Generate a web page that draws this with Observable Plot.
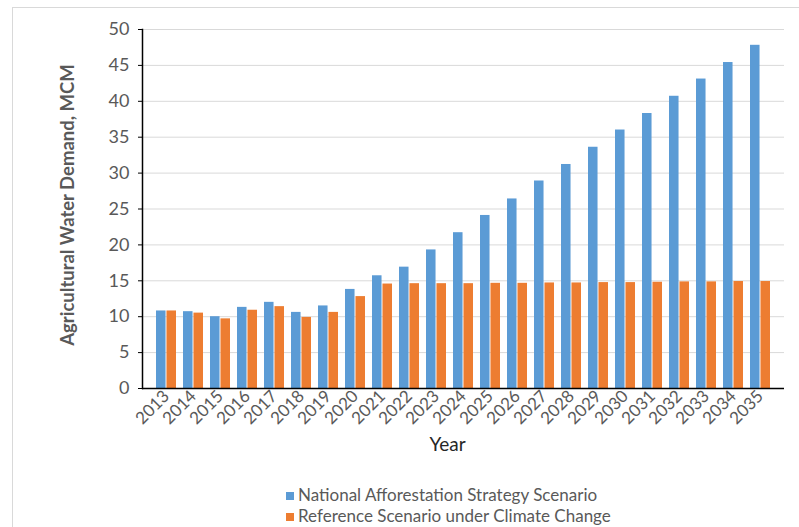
<!DOCTYPE html>
<html>
<head>
<meta charset="utf-8">
<script src="https://cdn.jsdelivr.net/npm/d3@7"></script>
<script src="https://cdn.jsdelivr.net/npm/@observablehq/plot@0.6"></script>
<style>
  body { margin: 0; background: #fff; font-family: Lato, "Noto Sans", sans-serif; }
  #wrap { position: relative; width: 799px; height: 527px; overflow: hidden; }
  #border { position: absolute; left: 12px; top: 7px; width: 800px; height: 600px; border-top: 1px solid #d9d9d9; border-left: 1px solid #d9d9d9; }
  #chart { position: absolute; left: 0; top: 0; }
  #legend { position: absolute; left: 286px; top: 484px; font-size: 17px; color: #595959; line-height: 21px; }
  #legend div { height: 21px; }
  #legend .sw { display: inline-block; width: 8px; height: 8px; margin-right: 4px; vertical-align: 1px; }
</style>
</head>
<body>
<div id="wrap">
  <div id="border"></div>
  <div id="chart"></div>
  <div id="legend"></div>
</div>
<script>
const years = ["2013","2014","2015","2016","2017","2018","2019","2020","2021","2022","2023","2024","2025","2026","2027","2028","2029","2030","2031","2032","2033","2034","2035"];
const seriesNames = ["National Afforestation Strategy Scenario", "Reference Scenario under Climate Change"];
const nationalValues = [10.8, 10.7, 10.0, 11.3, 12.0, 10.6, 11.5, 13.8, 15.7, 16.9, 19.3, 21.7, 24.1, 26.4, 28.9, 31.2, 33.6, 36.0, 38.3, 40.7, 43.1, 45.4, 47.8];
const referenceValues = [10.8, 10.5, 9.7, 10.9, 11.4, 9.9, 10.6, 12.8, 14.55, 14.6, 14.6, 14.6, 14.65, 14.65, 14.7, 14.7, 14.75, 14.75, 14.8, 14.85, 14.85, 14.9, 14.9];
const yTicks = [0, 5, 10, 15, 20, 25, 30, 35, 40, 45, 50];
const colors = ["#5B9BD5", "#ED7D31"];

const national = years.map((y, i) => ({year: y, value: nationalValues[i]}));
const reference = years.map((y, i) => ({year: y, value: referenceValues[i]}));

const W = 799, H = 470, ML = 142, MR = 15, MT = 29, MB = 82;
const step = (W - ML - MR) / years.length;
const bw = step * 0.75;

const chart = Plot.plot({
  width: W, height: H,
  marginLeft: ML, marginRight: MR, marginTop: MT, marginBottom: MB,
  style: {fontFamily: "Lato, 'Noto Sans', sans-serif", color: "#595959", background: "transparent"},
  x: {domain: years, paddingInner: 0.25, paddingOuter: 0.125, label: null},
  y: {domain: [0, 50], label: null},
  marks: [
    Plot.gridY(yTicks, {stroke: "#d9d9d9", strokeOpacity: 1, strokeWidth: 1}),
    Plot.barY(national, {x: "year", y: "value", fill: colors[0], insetRight: bw / 2}),
    Plot.barY(reference, {x: "year", y: "value", fill: colors[1], insetLeft: bw / 2}),
    Plot.ruleY([0], {stroke: "#000", strokeWidth: 1.5}),
    Plot.frame({anchor: "left", stroke: "#000", strokeWidth: 1.5}),
    Plot.axisY(yTicks, {tickSize: 4, tickPadding: 9, fontSize: 18, fill: "#595959", stroke: "#000", label: null}),
    Plot.axisX({tickSize: 0, tickPadding: 5, tickRotate: -45, fontSize: 17, fill: "#595959", label: null}),
    Plot.text(["Year"], {frameAnchor: "bottom", dx: -16, dy: 62, fontSize: 19, fill: "#262626"}),
    Plot.text(["Agricultural Water Demand, MCM"], {frameAnchor: "left", textAnchor: "middle", rotate: -90, dx: -74, dy: -4, fontSize: 18.5, fontWeight: "bold", fill: "#595959"})
  ]
});
document.getElementById("chart").appendChild(chart);

const legend = document.getElementById("legend");
seriesNames.forEach((name, i) => {
  const row = document.createElement("div");
  const sw = document.createElement("span");
  sw.className = "sw";
  sw.style.background = colors[i];
  row.appendChild(sw);
  row.appendChild(document.createTextNode(name));
  legend.appendChild(row);
});
</script>
</body>
</html>
